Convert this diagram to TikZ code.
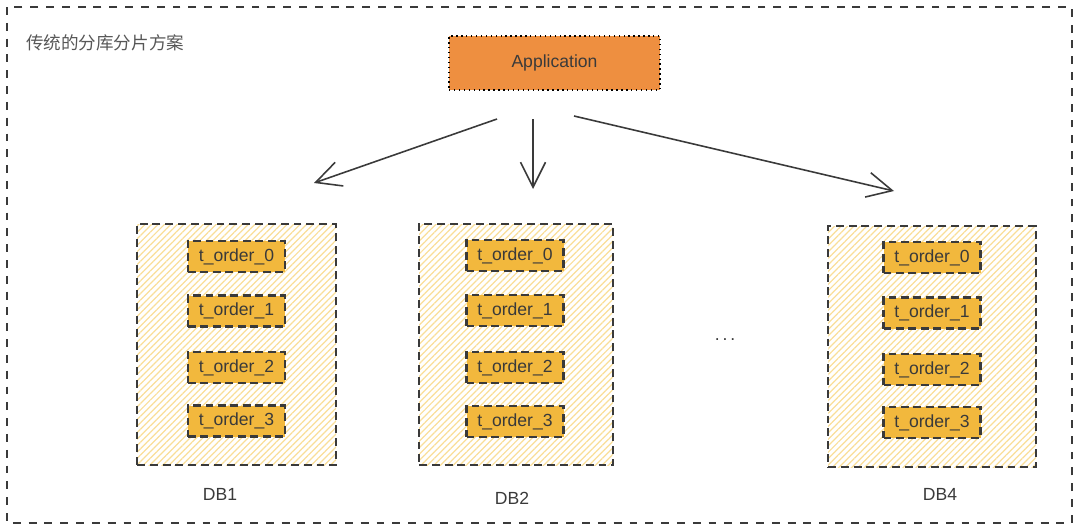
\documentclass[tikz,border=0pt]{standalone}
\usepackage{fontspec}
\setmainfont{Liberation Sans}
\newfontfamily\cjkfont{Noto Sans CJK SC}
\usetikzlibrary{arrows.meta,patterns.meta}

\definecolor{appfill}{HTML}{EE8F40}
\definecolor{tblfill}{HTML}{F2B83D}
\definecolor{hatch}{HTML}{F9DE98}
\definecolor{ink}{HTML}{3A3A3A}

\begin{document}
\begin{tikzpicture}[
  x=0.02cm, y=-0.02cm,
  every node/.style={inner sep=1pt, font=\fontsize{10}{12}\selectfont, text=ink},
  frame/.style={draw=ink, line width=0.9pt, dash pattern=on 4.5pt off 4.5pt},
  app/.style={draw=black, fill=appfill, line width=0.8pt, dotted,
              minimum width=211*0.02cm, minimum height=54*0.02cm},
  dbbox/.style={draw=ink, line width=1.4pt, dash pattern=on 4.5pt off 2.8pt,
                preaction={pattern={Lines[angle=45, distance=2.6pt, line width=0.7pt]},
                           pattern color=hatch},
                minimum width=200*0.02cm, minimum height=241*0.02cm},
  tbl/.style={draw=ink, fill=tblfill, line width=1.4pt, dash pattern=on 4.5pt off 2.6pt,
              minimum width=97*0.02cm, minimum height=31*0.02cm},
  link/.style={draw=ink, line width=0.9pt, -{Straight Barb[length=5mm, width=5mm, line width=0.9pt]}}]

  \useasboundingbox (0,0) rectangle (1080,531);

  % ---- outer frame and title ----------------------------------------------
  \draw[frame] (7,7) rectangle (1072,523);
  \node[anchor=west, text=ink!85] (title) at (24,43) {\cjkfont 传统的分库分片方案};

  % ---- application --------------------------------------------------------
  \node[app] (app) at (554.5,63) {Application};

  % ---- databases ----------------------------------------------------------
  % DB1
  \node[dbbox, minimum width=199*0.02cm] (db1) at (236.5,344.5) {};
  \node[tbl] (a0) at (236.5,256.5) {t\_order\_0};
  \node[tbl] (a1) at (236.5,311)   {t\_order\_1};
  \node[tbl] (a2) at (236.5,367.5) {t\_order\_2};
  \node[tbl] (a3) at (236.5,421)   {t\_order\_3};
  \node (db1l) at (220,494) {DB1};

  % DB2
  \node[dbbox, minimum width=194*0.02cm] (db2) at (516,344.5) {};
  \node[tbl] (b0) at (515,255.5) {t\_order\_0};
  \node[tbl] (b1) at (515,310.5) {t\_order\_1};
  \node[tbl] (b2) at (515,367.5) {t\_order\_2};
  \node[tbl] (b3) at (515,421.5) {t\_order\_3};
  \node (db2l) at (512,498) {DB2};

  % DB4
  \node[dbbox, minimum width=208*0.02cm] (db4) at (932,346.5) {};
  \node[tbl] (c0) at (932,257.5) {t\_order\_0};
  \node[tbl] (c1) at (932,313)   {t\_order\_1};
  \node[tbl] (c2) at (932,369.5) {t\_order\_2};
  \node[tbl] (c3) at (932,422.5) {t\_order\_3};
  \node (db4l) at (940,494) {DB4};

  % the gap between DB2 and DB4
  \node (dots) at (725,340) {.\,.\,.};

  % ---- routing arrows -----------------------------------------------------
  \coordinate (outL) at (497,119);
  \coordinate (outM) at (533,119);
  \coordinate (outR) at (574,116);
  \coordinate (inL)  at (314,183);
  \coordinate (inM)  at (533,189);
  \coordinate (inR)  at (894,191);
  \draw[link] (outL) -- (inL);
  \draw[link] (outM) -- (inM);
  \draw[link] (outR) -- (inR);
\end{tikzpicture}
\end{document}
